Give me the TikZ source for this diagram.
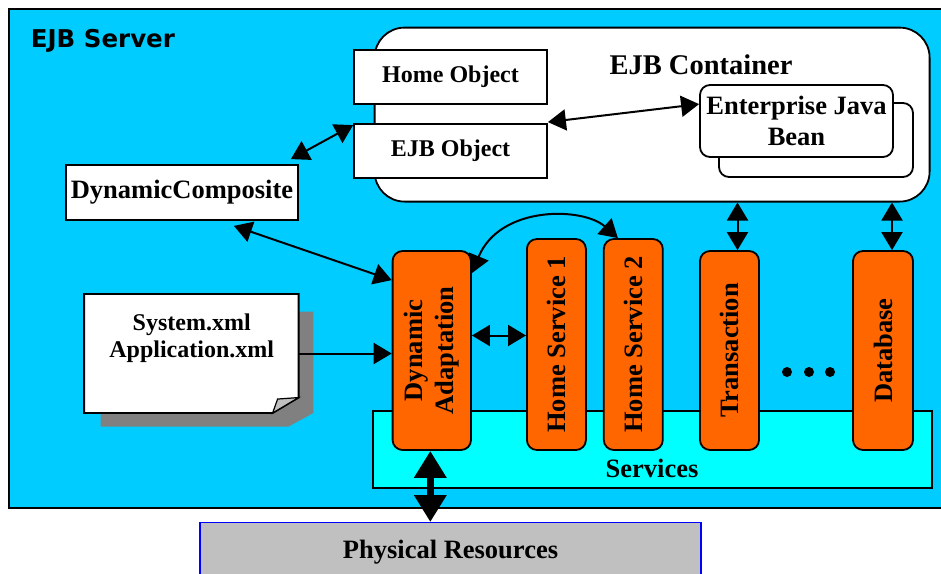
\documentclass[tikz,border=0pt]{standalone}
\usepackage{fontspec}
\setmainfont{Liberation Serif}
\newfontfamily\srvfont{DejaVu Sans}
\usepackage{xcolor}
\usetikzlibrary{arrows.meta, calc}

\definecolor{srvblue}{HTML}{00CCFF}
\definecolor{svcorange}{HTML}{FF6600}
\definecolor{svccyan}{HTML}{00FFFF}
\definecolor{resgray}{HTML}{C0C0C0}
\definecolor{shadowgray}{HTML}{808080}

\begin{document}
\begin{tikzpicture}[x=1pt, y=-1pt, line width=1.8pt,
  every node/.style={font=\bfseries\fontsize{24}{27}\selectfont, inner sep=0pt},
  plainbox/.style={draw, fill=white, minimum width=193pt, minimum height=54pt},
  svcbox/.style={draw, fill=svcorange, rounded corners=10pt, minimum width=59pt},
  bigfont/.style={font=\bfseries\fontsize{26.5}{31}\selectfont},
  vlabel/.style={rotate=90, align=center, font=\bfseries\fontsize{26.5}{30.5}\selectfont},
  tip/.style={-{Triangle[length=18pt,width=21pt]}, line width=2pt},
  dtip/.style={{Triangle[length=18pt,width=21pt]}-{Triangle[length=18pt,width=21pt]}, line width=2pt},
  fattip/.style={{Triangle[length=27pt,width=31pt]}-{Triangle[length=27pt,width=31pt]}, line width=7pt}]
  \useasboundingbox (0,0) rectangle (941,573);

  % ---------- SERVER ----------
  \node[draw, fill=srvblue, line width=2pt, anchor=north west,
        minimum width=950pt, minimum height=499pt] (server) at (8,8) {};
  \node[font=\srvfont\bfseries\fontsize{24.5}{28}\selectfont, anchor=base west] (srvlabel) at (30,47) {EJB Server};

  % ---------- CONTAINER ----------
  \node[draw, fill=white, rounded corners=30pt, anchor=north west,
        minimum width=555pt, minimum height=174pt] (container) at (373.7,26.7) {};
  \node[font=\bfseries\fontsize{28.5}{32}\selectfont] (contlabel) at (701,65) {EJB Container};
  \node[plainbox] (homeobj) at (450.5,77) {Home Object};
  \node[plainbox] (ejbobj) at (450.5,151) {EJB Object};
  \node[draw, fill=white, rounded corners=10pt, minimum width=194pt, minimum height=74pt] (beanback) at (816,140) {};
  \node[draw, fill=white, rounded corners=10pt, minimum width=193pt, minimum height=72pt,
        align=center, bigfont] (bean) at (796.5,121) {Enterprise Java\\Bean};

  % ---------- LEFT SIDE ----------
  \node[draw, fill=white, bigfont, minimum width=232pt, minimum height=55pt] (dc) at (182,192.5) {DynamicComposite};
  \node[minimum width=212.7pt, minimum height=117.3pt] (doc) at (191.35,353.5) {};
  \fill[shadowgray] (100.7,311.7) -- (313.3,311.7) -- (313.3,413) -- (288.3,426.7) -- (100.7,426.7) -- cycle;
  \draw[fill=white] (doc.north west) -- (doc.north east) -- ($(doc.south east)+(0,-15.5)$)
    -- ($(doc.south east)+(-26,0)$) -- (doc.south west) -- cycle;
  \draw[fill=resgray, line width=1.2pt] ($(doc.south east)+(-26,0)$) -- ($(doc.south east)+(-21,-14)$)
    -- ($(doc.south east)+(0,-15.5)$) -- cycle;
  \node[align=center] (xmltext) at (191.7,338) {System.xml\\Application.xml};

  % ---------- SERVICES ----------
  \node[draw, fill=svccyan, minimum width=558.6pt, minimum height=77pt] (services) at (652.3,449.5) {};
  \node[bigfont] (svclabel) at (652,468) {Services};
  \node[svcbox, minimum width=78.4pt, minimum height=199pt] (da) at (431.8,350.5) {};
  \node[svcbox, minimum height=211pt] (hs1) at (556.4,344.5) {};
  \node[svcbox, minimum height=211pt] (hs2) at (633.3,344.5) {};
  \node[svcbox, minimum height=199pt] (trans) at (729.5,350.5) {};
  \node[svcbox, minimum width=60pt, minimum height=199pt] (db) at (883,350.5) {};
  \node[vlabel] (daT) at (da) {Dynamic\\Adaptation};
  \node[vlabel] (hs1T) at (hs1) {Home Service 1};
  \node[vlabel] (hs2T) at (hs2) {Home Service 2};
  \node[vlabel] (transT) at (trans) {Transaction};
  \node[vlabel] (dbT) at (db) {Database};
  \foreach \x in {787,809,830} \fill (\x,372) circle (5pt);

  % ---------- RESOURCES ----------
  \node[draw=blue, fill=resgray, line width=1.2pt, bigfont, anchor=north,
        minimum width=501pt, minimum height=60pt] (phys) at (450.5,522) {Physical Resources};

  % ---------- ARROWS ----------
  \draw[dtip] ($(dc.north east)+(-8,-5)$) -- ($(ejbobj.north west)+(0,2)$);
  \draw[dtip] ($(dc.south east)+(-65,5)$) -- ($(da.north west)+(0,30)$);
  \draw[tip] (doc.east) -- (doc.east -| da.west);
  \draw[dtip] ($(ejbobj.north east)+(0,-1)$) -- ($(bean.north west)+(0,20)$);
  \draw[dtip] ($(da.east)+(0,-15)$) -- ($(hs1.west)+(0,-9)$);
  \draw[dtip] ($(da.north east)+(0,23)$) .. controls (500,205) and (583,207) .. ($(hs2.north west)+(15,0)$);
  \path (trans.north) ++(8,0) coordinate (transtop);
  \path (db.north) ++(9,0) coordinate (dbtop);
  \path (da.south) ++(-1.5,0) coordinate (dabot);
  \draw[dtip] (transtop) -- (transtop |- container.south);
  \draw[dtip] (dbtop) -- (dbtop |- container.south);
  \draw[fattip] (dabot) -- (dabot |- phys.north);
\end{tikzpicture}
\end{document}
